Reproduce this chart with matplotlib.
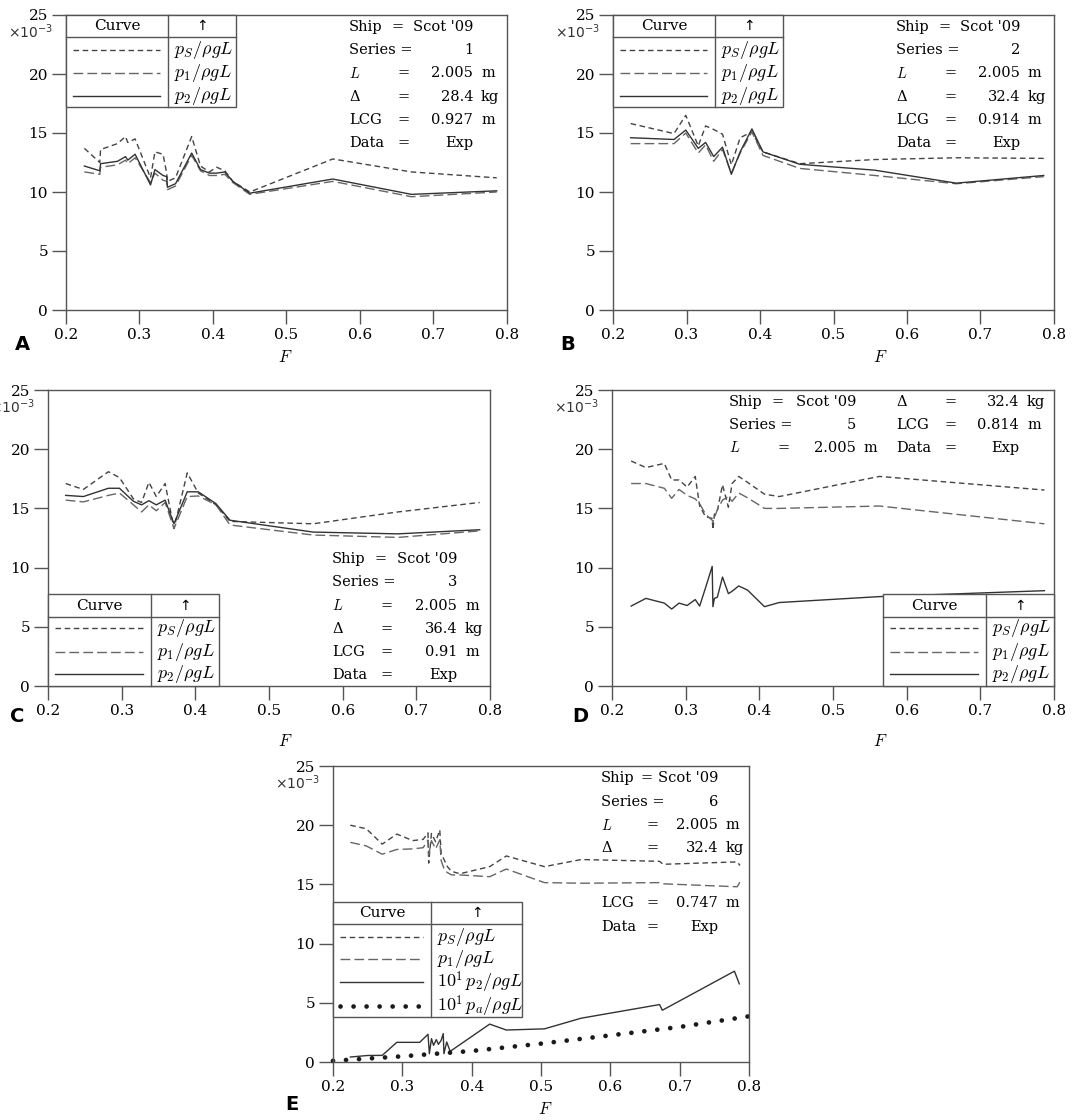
import matplotlib
matplotlib.use('Agg')
import matplotlib.pyplot as plt
from matplotlib.lines import Line2D
from matplotlib.patches import Rectangle

plt.rcParams['font.family'] = ['DejaVu Serif', 'DejaVu Sans']
plt.rcParams['mathtext.fontset'] = 'cm'

W, H = 1092, 1120

# --- data (values shown in units of 1e-3) ---
# panel A, series 1
F_A = [0.225, 0.246, 0.247, 0.270, 0.281, 0.284, 0.294, 0.315, 0.321, 0.332, 0.337, 0.338,
       0.349, 0.371, 0.383, 0.395, 0.405, 0.416, 0.427, 0.450, 0.563, 0.670, 0.786]
pS_A = [13.7, 12.5, 13.6, 14.1, 14.7, 14.2, 14.5, 11.2, 13.4, 13.2, 11.6, 10.9,
        11.2, 14.7, 12.2, 11.7, 12.1, 11.8, 10.9, 10.0, 12.8, 11.7, 11.2]
p1_A = [11.7, 11.5, 12.1, 12.3, 12.7, 12.4, 12.9, 10.8, 11.6, 11.0, 10.9, 10.2,
        10.5, 13.1, 11.8, 11.4, 11.4, 11.5, 10.8, 9.8, 10.9, 9.6, 10.0]
p2_A = [12.2, 11.8, 12.4, 12.6, 13.0, 12.7, 13.2, 10.6, 11.9, 11.4, 11.3, 10.4,
        10.7, 13.3, 11.9, 11.6, 11.6, 11.7, 10.9, 9.9, 11.1, 9.8, 10.1]

# panel B, series 2
F_B = [0.224, 0.283, 0.299, 0.316, 0.326, 0.337, 0.349, 0.361, 0.373, 0.389, 0.404, 0.454, 0.556, 0.667, 0.786]
pS_B = [15.8, 14.95, 16.5, 13.9, 15.6, 15.3, 14.9, 12.3, 14.6, 15.1, 13.4, 12.4, 12.75, 12.9, 12.85]
p1_B = [14.1, 14.1, 15.0, 13.3, 14.0, 12.6, 13.6, 11.6, 13.3, 15.1, 13.1, 12.0, 11.4, 10.7, 11.3]
p2_B = [14.6, 14.45, 15.25, 13.7, 14.2, 13.0, 13.8, 11.5, 13.4, 15.35, 13.4, 12.35, 11.85, 10.75, 11.4]

# panel C, series 3
F_C = [0.224, 0.248, 0.282, 0.297, 0.316, 0.327, 0.337, 0.347, 0.359, 0.371, 0.389, 0.404,
       0.428, 0.447, 0.560, 0.675, 0.786]
pS_C = [17.1, 16.6, 18.1, 17.6, 15.8, 15.5, 17.2, 16.0, 17.1, 13.3, 18.0, 16.3, 15.3, 13.9, 13.7, 14.7, 15.5]
p1_C = [15.7, 15.55, 16.1, 16.3, 15.3, 14.7, 15.3, 14.8, 15.5, 13.3, 16.0, 16.05, 15.3, 13.6, 12.75, 12.55, 13.1]
p2_C = [16.1, 16.0, 16.7, 16.7, 15.6, 15.3, 15.65, 15.3, 15.7, 13.7, 16.4, 16.4, 15.4, 14.0, 13.0, 12.85, 13.2]

# panel D, series 5
F_D = [0.226, 0.246, 0.271, 0.281, 0.291, 0.302, 0.313, 0.319, 0.327, 0.336, 0.337, 0.339,
       0.343, 0.350, 0.358, 0.363, 0.372, 0.384, 0.407, 0.427, 0.563, 0.787]
pS_D = [19.0, 18.45, 18.8, 17.4, 17.4, 16.8, 17.7, 15.2, 14.3, 14.15, 13.2, 14.5,
        14.8, 17.0, 15.1, 17.1, 17.7, 17.2, 16.2, 16.0, 17.7, 16.55]
p1_D = [17.1, 17.1, 16.7, 15.85, 16.6, 16.1, 15.8, 15.4, 14.5, 14.0, 13.9, 14.2,
        14.9, 15.7, 16.0, 15.6, 16.3, 15.9, 15.0, 15.0, 15.2, 13.7]
p2_D = [6.75, 7.4, 7.0, 6.5, 7.0, 6.8, 7.3, 6.75, 8.3, 10.1, 6.7, 7.4,
        7.5, 9.2, 7.8, 8.0, 8.45, 8.1, 6.7, 7.05, 7.55, 8.05]

# panel E, series 6 (p2 and pa plotted x10)
F_E = [0.225, 0.248, 0.271, 0.292, 0.315, 0.330, 0.337, 0.338, 0.342, 0.348, 0.354, 0.356,
       0.361, 0.365, 0.371, 0.383, 0.426, 0.450, 0.505, 0.558, 0.671, 0.676, 0.783, 0.787]
pS_E = [20.0, 19.7, 18.4, 19.25, 18.7, 18.8, 19.35, 16.8, 19.3, 18.6, 19.6, 17.6,
        17.0, 16.5, 16.1, 15.9, 16.5, 17.4, 16.5, 17.1, 16.95, 16.7, 16.9, 16.6]
p1_E = [18.55, 18.25, 17.55, 17.95, 18.0, 18.1, 18.75, 17.5, 18.7, 18.0, 18.75, 17.0,
        16.2, 16.0, 15.8, 15.8, 15.65, 16.3, 15.15, 15.1, 15.15, 15.05, 14.8, 15.2]
F_E2 = [0.225, 0.250, 0.271, 0.292, 0.325, 0.337, 0.339, 0.342, 0.345, 0.349, 0.352, 0.356,
        0.359, 0.360, 0.364, 0.369, 0.426, 0.450, 0.505, 0.558, 0.671, 0.675, 0.779, 0.786]
p2_E = [0.42, 0.55, 0.56, 1.66, 1.66, 2.34, 0.70, 1.97, 1.41, 1.89, 1.49, 1.83,
        2.40, 0.70, 1.69, 0.90, 3.20, 2.70, 2.80, 3.70, 4.85, 4.37, 7.67, 6.60]
F_Ea = [0.2, 0.3, 0.4, 0.5, 0.6, 0.7, 0.8]
pa_E = [0.10, 0.48, 0.93, 1.55, 2.25, 2.96, 3.86]

xticks = [0.2, 0.3, 0.4, 0.5, 0.6, 0.7, 0.8]
yticks = [0, 5, 10, 15, 20, 25]

GRAY = '#555555'
STY = {
    'S': dict(color='#444444', lw=1.0, ls=(0, (4, 2.6))),
    '1': dict(color='#666666', lw=1.0, ls=(0, (7, 3))),
    '2': dict(color='#333333', lw=1.0, ls='-'),
    'a': dict(color='#1a1a1a', lw=3.4, ls=(0, (0.01, 2.75)), dash_capstyle='round'),
}
LAB = {
    'S': r'$p_S/\rho gL$', '1': r'$p_1/\rho gL$', '2': r'$p_2/\rho gL$',
    '2x': r'$10^1\,p_2/\rho gL$', 'ax': r'$10^1\,p_a/\rho gL$',
}


def fx(x):
    return x / W


def fy(y):
    return 1 - y / H


def make_axes(l, t, r, b):
    ax = fig.add_axes([fx(l), fy(b), (r - l) / W, (b - t) / H])
    ax.set_xlim(0.2, 0.8)
    ax.set_ylim(0, 25)
    ax.set_xticks(xticks)
    ax.set_xticklabels([str(v) for v in xticks])
    ax.set_yticks(yticks)
    ax.tick_params(direction='out', length=10, width=1, color=GRAY, labelsize=11, pad=3)
    for s in ax.spines.values():
        s.set_color(GRAY)
        s.set_linewidth(1)
    # multiplier under the top tick label
    fig.text(fx(l - 13), fy(t + 7), r'$\mathregular{\times10^{-3}}$', ha='right', va='top',
             fontsize=10, family=['DejaVu Sans'], color='#333333')
    return ax


def info(rows, xl, xe, xv, xu, ys):
    kw = dict(fontsize=10.5, va='center')
    for (lab, val, unit), y in zip(rows, ys):
        if lab == 'Series':
            fig.text(fx(xl), fy(y), 'Series =', ha='left', **kw)
        else:
            fig.text(fx(xl), fy(y), lab, ha='left', **kw)
            shift = -6 if lab == 'Ship' else 0
            fig.text(fx(xe + shift), fy(y), '=', ha='center', **kw)
        fig.text(fx(xv), fy(y), val, ha='right', **kw)
        if unit:
            fig.text(fx(xu), fy(y), unit, ha='left', **kw)


def legend_table(l, t, r, b, div, hh, keys, ys):
    fig.add_artist(Rectangle((fx(l), fy(b)), (r - l) / W, (b - t) / H, transform=fig.transFigure,
                             facecolor='white', edgecolor=GRAY, lw=1, zorder=5))
    fig.add_artist(Line2D([fx(l), fx(r)], [fy(t + hh)] * 2, transform=fig.transFigure,
                          color=GRAY, lw=1, zorder=6))
    fig.add_artist(Line2D([fx(l + div)] * 2, [fy(t), fy(b)], transform=fig.transFigure,
                          color=GRAY, lw=1, zorder=6))
    fig.text(fx(l + div / 2), fy(t + hh / 2), 'Curve', ha='center', va='center', fontsize=11, zorder=7)
    fig.text(fx((l + div + r) / 2), fy(t + hh / 2), '↑', ha='center', va='center', fontsize=10,
             family=['DejaVu Sans'], zorder=7)
    for (style, lab), y in zip(keys, ys):
        fig.add_artist(Line2D([fx(l + 7), fx(l + div - 8)], [fy(y)] * 2, transform=fig.transFigure,
                              zorder=6, **STY[style]))
        fig.text(fx(l + div + 6), fy(y), LAB[lab], ha='left', va='center', fontsize=13, zorder=7)


def plot3(ax, F, pS, p1, p2):
    ax.plot(F, pS, **STY['S'])
    ax.plot(F, p1, **STY['1'])
    ax.plot(F, p2, **STY['2'])


fig = plt.figure(figsize=(W / 100, H / 100), dpi=100)
keys3 = [('S', 'S'), ('1', '1'), ('2', '2')]

# A
ax = make_axes(66, 15, 507, 310)
plot3(ax, F_A, pS_A, p1_A, p2_A)
legend_table(66, 15, 236, 107, 102, 22, keys3, [50, 73, 96])
info([('Ship', "Scot '09", ''), ('Series', '1', ''), ('$L$', '2.005', 'm'),
      ('Δ', '28.4', 'kg'), ('LCG', '0.927', 'm'), ('Data', 'Exp', '')],
     349, 404, 473, 481, [27, 50, 73, 97, 120, 143])

# B
ax = make_axes(613, 15, 1054, 310)
plot3(ax, F_B, pS_B, p1_B, p2_B)
legend_table(613, 15, 783, 107, 102, 22, keys3, [50, 73, 96])
info([('Ship', "Scot '09", ''), ('Series', '2', ''), ('$L$', '2.005', 'm'),
      ('Δ', '32.4', 'kg'), ('LCG', '0.914', 'm'), ('Data', 'Exp', '')],
     896, 951, 1020, 1028, [27, 50, 73, 97, 120, 143])

# C
ax = make_axes(48, 390, 490, 686)
plot3(ax, F_C, pS_C, p1_C, p2_C)
legend_table(48, 594, 219, 686, 103, 23, keys3, [628, 652, 674])
info([('Ship', "Scot '09", ''), ('Series', '3', ''), ('$L$', '2.005', 'm'),
      ('Δ', '36.4', 'kg'), ('LCG', '0.91', 'm'), ('Data', 'Exp', '')],
     332, 387, 457, 465, [559, 582, 606, 629, 652, 675])

# D
ax = make_axes(612, 390, 1054, 686)
plot3(ax, F_D, pS_D, p1_D, p2_D)
legend_table(883, 594, 1054, 686, 103, 23, keys3, [628, 652, 674])
info([('Ship', "Scot '09", ''), ('Series', '5', ''), ('$L$', '2.005', 'm')],
     729, 784, 856, 864, [402, 425, 448])
info([('Δ', '32.4', 'kg'), ('LCG', '0.814', 'm'), ('Data', 'Exp', '')],
     896, 951, 1019, 1027, [402, 425, 448])

# E
ax = make_axes(333, 766, 749, 1062)
ax.plot(F_E, pS_E, **STY['S'])
ax.plot(F_E, p1_E, **STY['1'])
ax.plot(F_E2, p2_E, **STY['2'])
ax.plot(F_Ea, pa_E, clip_on=False, **STY['a'])
legend_table(333, 902, 522, 1017, 98, 22,
             [('S', 'S'), ('1', '1'), ('2', '2x'), ('a', 'ax')], [937, 959, 982, 1006])
info([('Ship', "Scot '09", ''), ('Series', '6', ''), ('$L$', '2.005', 'm'),
      ('Δ', '32.4', 'kg'), ('LCG', '0.747', 'm'), ('Data', 'Exp', '')],
     601, 653, 718, 726, [778, 802, 825, 848, 903, 927])

# panel letters and x labels
for letter, (lx, ly), (fxp, fyp) in [('A', (15, 345), (285, 357)), ('B', (560, 345), (880, 357)),
                                     ('C', (10, 716), (285, 741)), ('D', (572, 716), (880, 741)),
                                     ('E', (285, 1104), (545, 1110))]:
    fig.text(fx(lx), fy(ly), letter, ha='left', va='center', fontsize=14, fontweight='bold',
             family=['DejaVu Sans'])
    fig.text(fx(fxp), fy(fyp), '$F$', ha='center', va='center', fontsize=12)

fig.savefig('out.png', dpi=100)
